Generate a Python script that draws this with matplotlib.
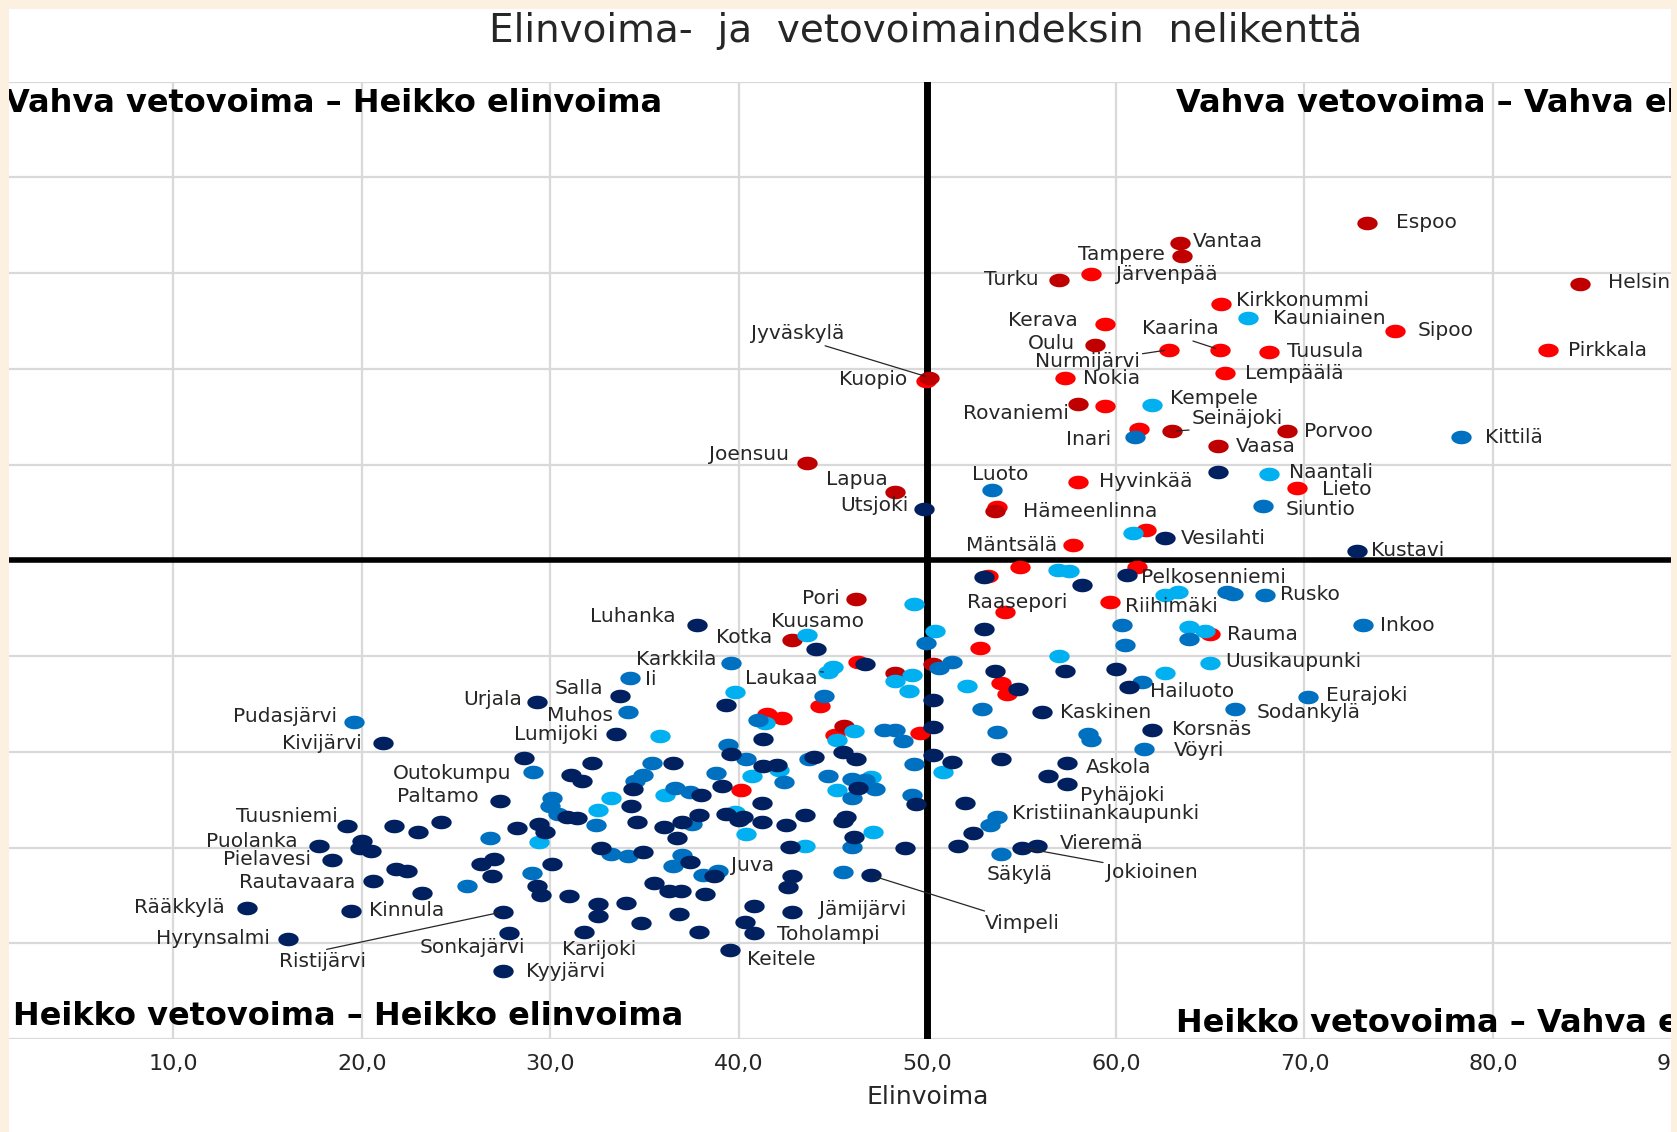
import numpy as np
import matplotlib
matplotlib.use("Agg")
import matplotlib.pyplot as plt
from matplotlib.patches import Rectangle

# Elinvoima (x) ja vetovoima (y) kunnittain, ryhmiteltynä pisteen värin mukaan.
# '' = pisteellä ei ole nimilappua.
dark_red_names = ["Espoo", "Vantaa", "Tampere", "Turku", "Helsinki", "Oulu", "Jyväskylä",
                  "Rovaniemi", "Seinäjoki", "Porvoo", "Vaasa", "Joensuu", "Lapua",
                  "Hämeenlinna", "Pori", "Kotka", "", "", ""]
dark_red_x = [73.3, 63.4, 63.5, 57.0, 84.6, 58.9, 50.1, 58.0, 63.0, 69.1, 65.4, 43.6, 48.3,
              53.6, 46.2, 42.8, 48.3, 50.3, 45.6]
dark_red_y = [85.2, 83.1, 81.8, 79.3, 78.9, 72.5, 69.1, 66.3, 63.5, 63.5, 61.9, 60.2, 57.1,
              55.2, 46.0, 41.7, 38.2, 39.2, 32.7]

red_names = ["Järvenpää", "Kirkkonummi", "Kerava", "Sipoo", "Nurmijärvi", "Kaarina", "Tuusula",
             "Pirkkala", "Nokia", "Lempäälä", "Kuopio", "", "", "Lieto", "Hyvinkää", "", "",
             "Mäntsälä", "", "", "", "Raasepori", "Riihimäki", "Rauma", "", "", "", "", "", "",
             "", "", "", ""]
red_x = [58.7, 65.6, 59.4, 74.8, 62.8, 65.5, 68.1, 82.9, 57.3, 65.8, 49.9, 59.4, 61.2, 69.6,
         58.0, 53.7, 61.6, 57.7, 61.1, 54.9, 53.2, 54.1, 59.7, 65.0, 52.8, 46.3, 53.9, 54.2,
         44.3, 41.5, 42.3, 45.1, 49.6, 40.1]
red_y = [79.9, 76.8, 74.7, 74.0, 72.0, 72.0, 71.8, 72.0, 69.1, 69.6, 68.7, 66.1, 63.7, 57.6,
         58.2, 55.6, 53.2, 51.6, 49.3, 49.3, 48.4, 44.6, 45.6, 42.3, 40.8, 39.4, 37.2, 36.0,
         34.8, 33.9, 33.5, 31.8, 32.0, 26.0]

light_blue_names = ["Kauniainen", "Kempele", "Naantali", "", "", "", "", "", "", "", "",
                    "Kuusamo", "", "Uusikaupunki", "", "", "Laukaa", "", "", "", "", "", "",
                    "", "", "", "", "", "", "", "", "", "", "", "", "", "", "", "", ""]
light_blue_x = [67.0, 61.9, 68.1, 60.9, 56.9, 57.5, 62.6, 63.3, 49.3, 63.9, 64.7, 43.6, 50.4,
                65.0, 62.6, 45.0, 44.7, 49.2, 48.3, 49.0, 57.0, 52.1, 39.8, 41.4, 46.1, 45.2,
                35.8, 50.8, 42.1, 40.7, 47.0, 45.2, 36.1, 33.2, 32.5, 39.8, 40.4, 47.1, 43.5,
                29.4]
light_blue_y = [75.3, 66.2, 59.0, 52.9, 49.0, 48.9, 46.4, 46.7, 45.4, 43.0, 42.6, 42.2, 42.6,
                39.3, 38.2, 38.9, 38.3, 38.0, 37.4, 36.4, 40.0, 36.9, 36.2, 33.0, 32.2, 31.2,
                31.7, 27.9, 28.1, 27.5, 27.4, 26.0, 25.5, 25.2, 23.9, 23.7, 21.4, 21.6, 20.2,
                20.6]

mid_blue_names = ["Inari", "Kittilä", "Luoto", "Siuntio", "", "", "Rusko", "", "Inkoo", "", "",
                  "", "Eurajoki", "Sodankylä", "Vöyri", "", "Karkkila", "", "", "", "", "", "",
                  "", "", "", "", "", "", "", "", "", "", "", "", "", "", "",
                  "Kristiinankaupunki", "", "Säkylä", "", "", "", "", "", "", "", "", "",
                  "Pudasjärvi", "Ii", "Muhos", "Outokumpu", "", "", "", "", "", "", "", "",
                  "", "", "", "", ""]
mid_blue_x = [61.0, 78.3, 53.4, 67.8, 65.9, 66.2, 67.9, 60.3, 73.1, 63.9, 60.5, 61.4, 70.2,
              66.3, 61.5, 49.9, 39.6, 51.3, 50.6, 44.5, 52.9, 41.0, 47.7, 48.3, 48.7, 53.7,
              58.5, 58.7, 39.4, 40.4, 49.3, 38.8, 42.4, 44.7, 46.0, 46.7, 47.2, 46.0, 53.7,
              53.3, 53.9, 36.6, 37.4, 37.5, 46.0, 37.0, 36.5, 38.1, 38.9, 45.5, 19.6, 34.2,
              34.1, 29.1, 35.4, 34.9, 34.5, 30.1, 30.0, 30.4, 32.4, 26.8, 29.0, 33.2, 34.1,
              25.6, 43.7, 49.2]
mid_blue_y = [62.9, 62.9, 57.3, 55.7, 46.7, 46.5, 46.4, 43.2, 43.2, 41.8, 41.2, 37.3, 35.7,
              34.5, 30.3, 41.4, 39.3, 39.4, 38.8, 35.8, 34.5, 33.3, 32.3, 32.3, 31.1, 32.1,
              31.9, 31.2, 30.7, 29.3, 28.7, 27.8, 26.8, 27.5, 27.2, 27.1, 26.1, 25.2, 23.2,
              22.4, 19.3, 26.2, 25.8, 22.5, 20.1, 19.2, 18.1, 17.1, 17.5, 17.4, 33.1, 37.7,
              34.2, 27.9, 28.8, 27.6, 26.9, 25.2, 24.3, 23.5, 22.4, 21.0, 17.3, 19.3, 19.1,
              16.0, 29.3, 25.5]

navy_names = ["Utsjoki", "", "Vesilahti", "Kustavi", "Pelkosenniemi", "", "", "Luhanka", "",
              "", "", "", "", "", "Hailuoto", "", "", "", "Kaskinen", "", "", "Korsnäs", "",
              "", "", "", "", "", "", "Askola", "", "Pyhäjoki", "", "", "", "", "", "", "", "",
              "", "", "", "Vieremä", "Jokioinen", "", "", "", "", "", "", "", "", "", "", "",
              "", "", "", "", "", "Juva", "", "", "", "", "", "", "Vimpeli", "", "Jämijärvi",
              "", "", "", "Toholampi", "Keitele", "Urjala", "Salla", "Lumijoki", "Kivijärvi",
              "", "", "", "", "", "Paltamo", "", "", "", "", "", "", "", "Tuusniemi", "", "",
              "", "Puolanka", "", "", "", "Pielavesi", "", "", "", "", "", "", "", "", "", "",
              "Rautavaara", "", "", "", "", "", "", "Karijoki", "Rääkkylä", "Kinnula",
              "Ristijärvi", "Hyrynsalmi", "Sonkajärvi", "Kyyjärvi"]
navy_x = [49.8, 65.4, 62.6, 72.8, 60.6, 53.0, 58.2, 37.8, 53.0, 44.1, 46.7, 53.6, 57.3, 60.0,
          60.7, 54.8, 39.3, 50.3, 56.1, 41.3, 50.3, 61.9, 39.6, 45.5, 46.2, 44.0, 50.3, 51.3,
          53.9, 57.4, 56.4, 57.4, 41.3, 42.0, 46.3, 39.1, 36.5, 38.0, 41.2, 49.4, 52.0, 52.4,
          51.6, 55.8, 55.0, 48.8, 37.9, 39.3, 40.2, 40.0, 41.2, 42.5, 43.5, 45.7, 45.5, 37.0,
          36.0, 36.7, 46.1, 42.7, 37.4, 38.7, 35.5, 36.3, 36.9, 38.2, 42.8, 42.6, 47.0, 40.8,
          42.8, 36.8, 40.3, 37.9, 40.8, 39.5, 29.3, 33.7, 33.5, 21.1, 28.6, 32.2, 31.1, 31.7,
          34.4, 27.3, 30.9, 31.4, 34.3, 34.6, 28.2, 29.4, 29.7, 19.2, 21.7, 23.0, 24.2, 17.7,
          20.0, 19.9, 20.5, 18.4, 21.8, 22.4, 26.3, 27.0, 26.9, 29.3, 29.5, 30.1, 32.7, 34.9,
          20.6, 23.2, 31.0, 32.5, 34.0, 32.5, 34.8, 31.8, 13.9, 19.4, 27.5, 16.1, 27.8, 27.5]
navy_y = [55.4, 59.2, 52.3, 51.0, 48.5, 48.3, 47.4, 43.2, 42.8, 40.7, 39.2, 38.4, 38.4, 38.7,
          36.8, 36.6, 34.9, 35.4, 34.2, 31.3, 32.6, 32.3, 29.8, 30.0, 29.3, 29.5, 29.7, 28.9,
          29.2, 28.8, 27.5, 26.6, 28.5, 28.6, 26.2, 26.4, 28.8, 25.5, 24.7, 24.6, 24.7, 21.5,
          20.2, 20.2, 20.0, 19.9, 23.4, 23.5, 23.2, 22.9, 22.7, 22.4, 23.4, 23.2, 22.8, 22.7,
          22.1, 21.0, 21.1, 20.1, 18.5, 17.0, 16.3, 15.5, 15.5, 15.1, 17.0, 15.9, 17.1, 13.9,
          13.3, 13.1, 12.2, 11.2, 11.1, 9.3, 35.2, 35.8, 31.9, 30.9, 29.4, 28.8, 27.6, 26.9,
          26.1, 24.9, 23.2, 23.1, 24.3, 22.7, 22.0, 22.5, 21.6, 22.2, 22.3, 21.6, 22.7, 20.2,
          20.7, 20.0, 19.6, 18.7, 17.8, 17.6, 18.3, 18.8, 17.0, 16.0, 15.0, 18.3, 19.9, 19.5,
          16.5, 15.2, 14.9, 14.1, 14.2, 12.8, 12.1, 11.2, 13.7, 13.4, 13.3, 10.4, 11.1, 7.1]

x_ticks = [10, 20, 30, 40, 50, 60, 70, 80, 90]
quadrant_texts = ["Vahva vetovoima – Heikko elinvoima", "Vahva vetovoima – Vahva elinvoima",
                  "Heikko vetovoima – Heikko elinvoima", "Heikko vetovoima – Vahva elinvoima"]

# label placement: offset in pixels from the point, alignment
label_pos = {
    "Espoo": (29, 1, "left"), "Vantaa": (13, 2, "left"), "Tampere": (-17, 1, "right"),
    "Turku": (-21, 0, "right"), "Järvenpää": (25, 0, "left"), "Helsinki": (28, 1, "left"),
    "Kirkkonummi": (15, 3, "left"), "Kauniainen": (25, 0, "left"), "Kerava": (-27, 3, "right"),
    "Sipoo": (23, 0, "left"), "Oulu": (-20, 1, "right"), "Nurmijärvi": (-29, -12, "right"),
    "Kaarina": (-39, 21, "center"), "Tuusula": (18, 0, "left"), "Pirkkala": (20, -1, "left"),
    "Nokia": (18, -1, "left"), "Lempäälä": (20, -1, "left"), "Kuopio": (-18, 2, "right"),
    "Jyväskylä": (-132, 44, "center"), "Kempele": (18, 7, "left"),
    "Rovaniemi": (-9, -9, "right"), "Seinäjoki": (65, 13, "center"), "Inari": (-24, -3, "right"),
    "Porvoo": (17, 0, "left"), "Kittilä": (24, -1, "left"), "Vaasa": (18, 0, "left"),
    "Naantali": (20, 2, "left"), "Joensuu": (-18, 8, "right"), "Lapua": (-8, 13, "right"),
    "Utsjoki": (-15, 3, "right"), "Luoto": (9, 16, "center"), "Hyvinkää": (21, 0, "left"),
    "Lieto": (25, -2, "left"), "Hämeenlinna": (28, -1, "left"), "Siuntio": (23, -4, "left"),
    "Vesilahti": (16, 0, "left"), "Mäntsälä": (-15, 0, "right"), "Kustavi": (14, 0, "left"),
    "Pelkosenniemi": (14, -3, "left"), "Rusko": (15, 0, "left"), "Raasepori": (12, 10, "center"),
    "Riihimäki": (15, -4, "left"), "Pori": (-16, 0, "right"), "Luhanka": (-22, 9, "right"),
    "Kuusamo": (11, 14, "center"), "Kotka": (-19, 2, "right"), "Inkoo": (17, 0, "left"),
    "Rauma": (17, 0, "left"), "Uusikaupunki": (15, 1, "left"), "Karkkila": (-15, 3, "right"),
    "Ii": (15, -1, "left"), "Laukaa": (-10, -6, "right"), "Salla": (-17, 8, "right"),
    "Urjala": (-15, 3, "right"), "Hailuoto": (21, -5, "left"), "Eurajoki": (18, 2, "left"),
    "Muhos": (-15, -4, "right"), "Pudasjärvi": (-17, 6, "right"), "Kaskinen": (18, -1, "left"),
    "Sodankylä": (22, -4, "left"), "Lumijoki": (-18, -1, "right"), "Korsnäs": (20, 0, "left"),
    "Kivijärvi": (-21, 0, "right"), "Vöyri": (30, -2, "left"), "Outokumpu": (-22, -2, "right"),
    "Askola": (19, -4, "left"), "Paltamo": (-21, 4, "right"), "Pyhäjoki": (13, -11, "left"),
    "Tuusniemi": (-9, 10, "right"), "Kristiinankaupunki": (15, 3, "left"),
    "Puolanka": (-21, 4, "right"), "Vieremä": (23, 2, "left"), "Pielavesi": (-21, 0, "right"),
    "Juva": (17, 11, "left"), "Säkylä": (19, -20, "center"), "Jokioinen": (130, -25, "center"),
    "Rautavaara": (-18, -1, "right"), "Rääkkylä": (-22, 0, "right"), "Kinnula": (18, 0, "left"),
    "Jämijärvi": (27, 2, "left"), "Vimpeli": (151, -48, "center"),
    "Hyrynsalmi": (-19, 1, "right"), "Sonkajärvi": (-37, -15, "center"),
    "Karijoki": (15, -18, "center"), "Toholampi": (23, -2, "left"),
    "Ristijärvi": (-181, -50, "center"), "Keitele": (17, -10, "left"), "Kyyjärvi": (23, 0, "left"),
}
# where the leader line leaves the label (relative position in the text box)
leaders = {
    "Nurmijärvi": (1.0, 0.9), "Kaarina": (0.55, 0.0), "Seinäjoki": (0.4, 0.0),
    "Jyväskylä": (0.7, 0.0), "Laukaa": (0.55, 1.0), "Ristijärvi": (0.4, 1.0),
    "Vimpeli": (0.12, 1.0), "Jokioinen": (0.0, 1.0),
}

groups = [
    (red_names, red_x, red_y, "#FF0000"),
    (dark_red_names, dark_red_x, dark_red_y, "#C00000"),
    (light_blue_names, light_blue_x, light_blue_y, "#00B0F0"),
    (mid_blue_names, mid_blue_x, mid_blue_y, "#0070C0"),
    (navy_names, navy_x, navy_y, "#002060"),
]

TXT = "#262626"
BEIGE = "#FCF0E0"
W, H = 1677, 1132

fig = plt.figure(figsize=(W / 100, H / 100), dpi=100, facecolor="white")
# axes stretched past the right edge, the picture is a crop of a wider chart
x_lo, x_hi = 1.25, 95.0
px_per_unit = 18.85
ax = fig.add_axes([8.5 / W, 1 - 1039 / H, (x_hi - x_lo) * px_per_unit / W, (1039 - 81.7) / H])
ax.set_xlim(x_lo, x_hi)
ax.set_ylim(0, 100)

ax.set_xticks(x_ticks)
ax.set_xticklabels([f"{t:.1f}".replace(".", ",") for t in x_ticks])
ax.set_yticks(np.arange(0, 101, 10))
ax.set_yticklabels([])
ax.tick_params(length=0, labelsize=16, labelcolor=TXT, pad=11)
ax.grid(True, color="#D9D9D9", lw=1.6, zorder=0)
ax.set_axisbelow(True)
for s in ax.spines.values():
    s.set_visible(False)
ax.set_xlabel("Elinvoima", fontsize=18, color=TXT)
# keep the label under the visible part of the chart (x=50)
ax.xaxis.set_label_coords((50 - x_lo) / (x_hi - x_lo), -0.048)

ax.axvline(50, color="black", lw=5, zorder=2)
ax.axhline(50, color="black", lw=4, zorder=2)

# dots are drawn a bit wider than high, as in the original picture
theta = np.linspace(0, 2 * np.pi, 48)
oval = np.column_stack([1.5 * np.cos(theta), np.sin(theta)])

for names, xs, ys, col in groups:
    ax.scatter(xs, ys, s=215, marker=oval, color=col, linewidths=0, zorder=3)

for names, xs, ys, col in groups:
    for name, x, y in zip(names, xs, ys):
        if not name:
            continue
        dx, dy, ha = label_pos[name]
        arrow = None
        if name in leaders:
            arrow = dict(arrowstyle="-", color=TXT, lw=0.9, relpos=leaders[name],
                         shrinkA=0, shrinkB=3)
        ax.annotate(name, (x, y), xytext=(dx, dy), textcoords="offset pixels",
                    ha=ha, va="center", fontsize=14.5, color=TXT, arrowprops=arrow,
                    zorder=5)

qkw = dict(fontsize=23, fontweight="bold", color="black", va="center", clip_on=True, zorder=6)
ax.text(1.05, 97.7, quadrant_texts[0], ha="left", **qkw)
ax.text(63.2, 97.7, quadrant_texts[1], ha="left", **qkw)
ax.text(1.47, 2.4, quadrant_texts[2], ha="left", **qkw)
ax.text(63.2, 1.6, quadrant_texts[3], ha="left", **qkw)

fig.text(926 / W, 1 - 31 / H, "Elinvoima-  ja  vetovoimaindeksin  nelikenttä",
         ha="center", va="center", fontsize=28, color=TXT)

# beige frame of the screenshot
for rect in [(0, 0, 8.5 / W, 1), (0, 1 - 8.5 / H, 1, 8.5 / H), (1 - 6 / W, 0, 6 / W, 1)]:
    fig.add_artist(Rectangle(rect[:2], rect[2], rect[3], transform=fig.transFigure,
                             facecolor=BEIGE, edgecolor="none", zorder=20))

fig.savefig("out.png", dpi=100, facecolor="white")
